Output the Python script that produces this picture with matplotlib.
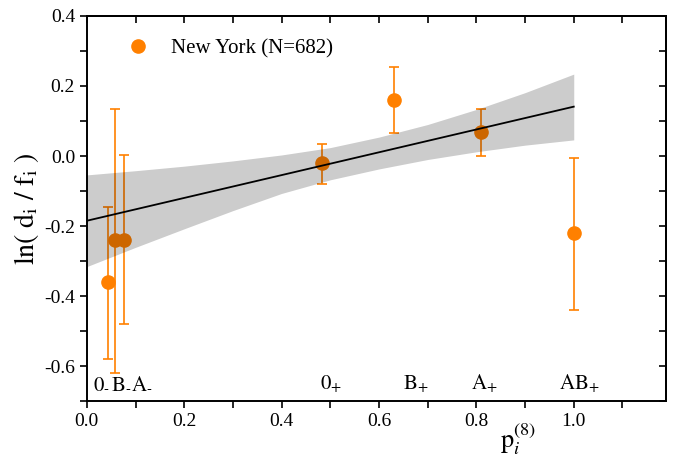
import matplotlib
matplotlib.use("Agg")
import matplotlib.pyplot as plt
from matplotlib.lines import Line2D
from matplotlib.ticker import MultipleLocator, FormatStrFormatter

plt.rcParams['font.family'] = ['Liberation Serif', 'DejaVu Serif']
plt.rcParams['mathtext.fontset'] = 'stix'
plt.rcParams['axes.unicode_minus'] = False

# data
groups = ['0-', 'B-', 'A-', '0+', 'B+', 'A+', 'AB+']
p8 = [0.044, 0.058, 0.077, 0.482, 0.630, 0.810, 1.000]
lnratio = [-0.36, -0.24, -0.24, -0.02, 0.16, 0.068, -0.22]
err_hi = [-0.145, 0.135, 0.003, 0.033, 0.255, 0.135, -0.005]
err_lo = [-0.58, -0.62, -0.48, -0.08, 0.065, 0.0, -0.44]

fit_x = [0.0, 1.0]
fit_y = [-0.185, 0.141]

band_x = [0.0, 0.1, 0.2, 0.3, 0.4, 0.5, 0.6, 0.7, 0.8, 0.9, 1.0]
band_hi = [-0.054, -0.042, -0.029, -0.014, 0.003, 0.024, 0.054, 0.090, 0.133, 0.181, 0.234]
band_lo = [-0.316, -0.261, -0.208, -0.156, -0.107, -0.068, -0.037, -0.010, 0.012, 0.031, 0.046]

label_text = ['0', 'B', 'A', '0', 'B', 'A', 'AB']
label_sign = ['\u2010', '\u2010', '\u2010', '+', '+', '+', '+']
label_x = [0.012, 0.049, 0.090, 0.478, 0.650, 0.789, 0.970]
label_y = -0.666

orange = '#ff8000'

fig = plt.figure(figsize=(6.73, 4.57), dpi=100)
ax = fig.add_axes([0.129, 0.1225, 0.861, 0.8425])

yerr = [[v - lo for v, lo in zip(lnratio, err_lo)], [hi - v for v, hi in zip(lnratio, err_hi)]]
ax.errorbar(p8, lnratio, yerr=yerr, fmt='o', color=orange, ecolor=orange,
            markersize=9.5, elinewidth=1.2, capsize=3.5, capthick=1.2, zorder=2)
ax.fill_between(band_x, band_lo, band_hi, color='black', alpha=0.2, linewidth=0, zorder=3)
ax.plot(fit_x, fit_y, color='black', linewidth=1.3, zorder=4)

for t, s, x in zip(label_text, label_sign, label_x):
    ax.text(x, label_y, r'$\mathrm{%s}_{\mathrm{%s}}$' % (t, s), fontsize=15,
            va='baseline', ha='left')

ax.set_xlim(0, 1.19)
ax.set_ylim(-0.7, 0.4)
ax.xaxis.set_major_locator(MultipleLocator(0.2))
ax.xaxis.set_minor_locator(MultipleLocator(0.1))
ax.yaxis.set_major_locator(MultipleLocator(0.2))
ax.yaxis.set_minor_locator(MultipleLocator(0.1))
ax.xaxis.set_major_formatter(FormatStrFormatter('%.1f'))
ax.yaxis.set_major_formatter(FormatStrFormatter('%.1f'))

ax.tick_params(which='both', direction='out', length=5, width=1.2, labelsize=14,
               top=False, right=False)
ax2 = ax.secondary_xaxis('top')
ax2.xaxis.set_major_locator(MultipleLocator(0.1))
ax2.tick_params(direction='in', length=5, width=1.2, labeltop=False)
ax3 = ax.secondary_yaxis('right')
ax3.yaxis.set_major_locator(MultipleLocator(0.1))
ax3.tick_params(direction='in', length=5, width=1.2, labelright=False)
for a in (ax, ax2, ax3):
    for s in a.spines.values():
        s.set_linewidth(1.4)

ax.set_ylabel(r'$\mathrm{ln(\ d_{i}\ /\ f_{i}\ )}$', fontsize=20, labelpad=2)
ax.set_xlabel(r'$\mathrm{p}_{i}^{(8)}$', fontsize=19)
ax.xaxis.set_label_coords(0.745, -0.052, transform=ax.transAxes)
ax.xaxis.label.set_verticalalignment('top')

handle = Line2D([], [], marker='o', color=orange, linestyle='none', markersize=9.5)
ax.legend([handle], ['New York (N=682)'], loc='upper left', frameon=False,
          fontsize=15, bbox_to_anchor=(0.02, 0.99), handletextpad=0.6)

fig.savefig('out.png', dpi=100)
